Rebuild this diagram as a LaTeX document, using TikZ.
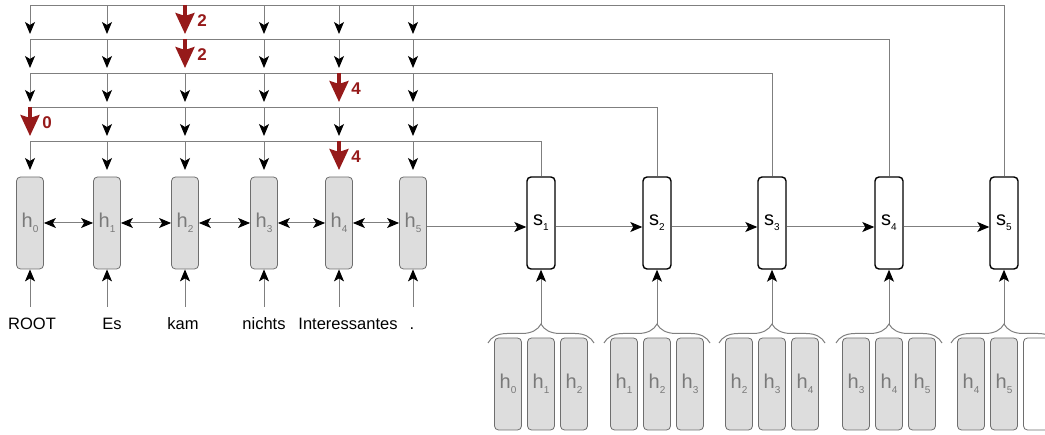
\documentclass[tikz,border=0pt]{standalone}
\usepackage{fontspec}
\setmainfont{Liberation Sans}
\usetikzlibrary{arrows.meta,decorations.pathreplacing,calc}
\definecolor{lgray}{HTML}{7F7F7F}
\definecolor{hgray}{HTML}{7A7A7A}
\definecolor{boxfill}{HTML}{DDDDDD}
\definecolor{boxline}{HTML}{6E6E6E}
\definecolor{dred}{RGB}{150,26,26}
\newcommand\hlab[1]{{\fontsize{20}{20}\selectfont\color{hgray}h\raisebox{-5pt}{\fontsize{10}{10}\selectfont #1}}}
\newcommand\slab[1]{{\fontsize{20}{20}\selectfont s\raisebox{-5pt}{\fontsize{10}{10}\selectfont #1}}}
\begin{document}
\begin{tikzpicture}[x=1pt,y=-1pt,
  hbox/.style={draw=boxline,fill=boxfill,rounded corners=4pt,minimum width=27pt,minimum height=92pt,inner sep=0pt,line width=0.8pt},
  ebox/.style={draw=boxline,fill=white,rounded corners=4pt,minimum width=27pt,minimum height=92pt,inner sep=0pt,line width=0.8pt},
  sbox/.style={draw=black,fill=white,rounded corners=4pt,minimum width=28pt,minimum height=92pt,inner sep=0pt,line width=1.4pt},
  word/.style={font=\fontsize{16.5}{16.5}\selectfont,text height=12pt,text depth=3pt,inner sep=0pt},
  conn/.style={draw=lgray,line width=1pt},
  arr/.style={conn,-{Stealth[length=12pt,width=10pt,inset=3pt,color=black]}},
  biarr/.style={conn,{Stealth[length=12pt,width=10pt,inset=3pt,color=black]}-{Stealth[length=12pt,width=10pt,inset=3pt,color=black]}},
  redarr/.style={draw=dred,line width=3.5pt,-{Stealth[length=21pt,width=19pt,inset=3pt,color=dred]}},
  redlab/.style={text=dred,font=\fontsize{17}{17}\selectfont\bfseries,inner sep=0pt},
  bracestyle/.style={draw=lgray,line width=1pt,decorate,decoration={brace,amplitude=19pt}}
]
\useasboundingbox (0,0) rectangle (1045,435);
\clip (0,0) rectangle (1045,435);
% encoder boxes and words
\foreach \w/\wx/\x [count=\i from 0] in {ROOT/32/30,Es/112/107,kam/183/185,nichts/264/264,Interessantes/348/339,./412/413}{
  \node[hbox] (h\i) at (\x,223) {\hlab{\i}};
  \node[word] (w\i) at (\wx,325) {\w};
  \coordinate (in\i) at (\x,307);
  \draw[arr] (in\i) -- (h\i.south);
}
\foreach \i/\j in {0/1,1/2,2/3,3/4,4/5}{
  \draw[biarr] (h\i.east) -- (h\j.west);
}
% decoder boxes
\foreach \x [count=\i] in {541,657,772,889,1004}{
  \node[sbox] (s\i) at (\x,223) {\slab{\i}};
}
\draw[arr] ([yshift=-4pt]h5.east) -- ([yshift=-4pt]s1.west);
\foreach \i/\j in {1/2,2/3,3/4,4/5}{
  \draw[arr] ([yshift=-4pt]s\i.east) -- ([yshift=-4pt]s\j.west);
}
% attention rows
\foreach \y/\s/\rc [count=\k] in {6/5/2,40/4/2,74/3/4,108/2/0,142/1/4}{
  \coordinate (r\k) at (30,\y);
  \draw[conn] (r\k) -| (s\s.north);
  \foreach \x [count=\j from 0] in {30,107,185,264,339,413}{
    \coordinate (a\k-\j) at (\x,\y);
    \coordinate (t\k-\j) at (\x,{\y+28});
    \ifnum\j=\rc
      \draw[redarr] ([yshift=1pt]a\k-\j) -- (t\k-\j);
      \node[redlab] (l\k) at ({\x+17},{\y+15}) {\rc};
    \else
      \draw[arr] (a\k-\j) -- (t\k-\j);
    \fi
  }
}
% bottom groups
\foreach \x [count=\i] in {541,657,772,889,1004}{
  \pgfmathtruncatemacro\lo{\i-1}
  \pgfmathtruncatemacro\hi{\i+1}
  \node[hbox] (b\i-1) at ({\x-33},384) {\hlab{\lo}};
  \node[hbox] (b\i-2) at (\x,384) {\hlab{\i}};
  \ifnum\i<5
    \node[hbox] (b\i-3) at ({\x+33},384) {\hlab{\hi}};
  \else
    \node[ebox] (b\i-3) at ({\x+33},384) {};
  \fi
  \coordinate (bl\i) at ({\x-53},343);
  \coordinate (br\i) at ({\x+53},343);
  \coordinate (bt\i) at (\x,324);
  \draw[bracestyle] (bl\i) -- (br\i);
  \draw[arr] (bt\i) -- (s\i.south);
}
\end{tikzpicture}
\end{document}
